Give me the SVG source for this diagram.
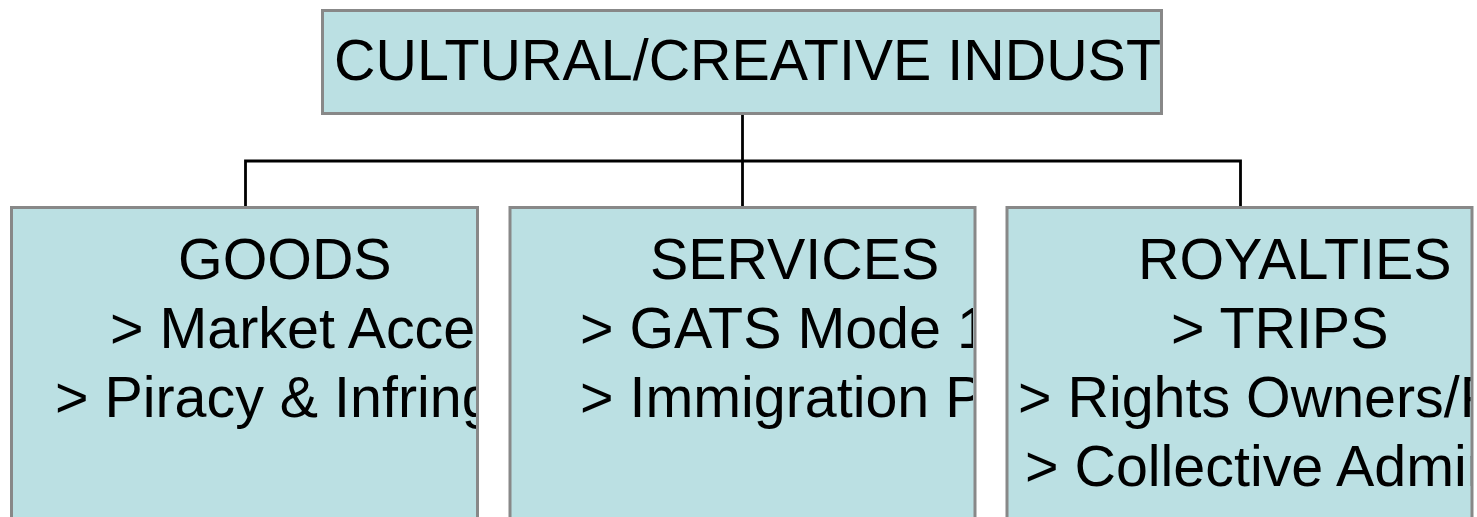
<svg xmlns="http://www.w3.org/2000/svg" width="1477" height="517" viewBox="0 0 1477 517">
  <style>
    .box { fill: #BBE0E3; stroke: #888888; stroke-width: 3; }
    .lbl { font-family: "Liberation Sans", Arial, sans-serif; font-size: 57.4px; fill: #000000; }
    .wire { fill: none; stroke: #000000; stroke-width: 2.8; }
  </style>
  <defs>
    <clipPath id="clip-root"><rect x="324" y="12" width="836" height="100"/></clipPath>
    <clipPath id="clip-goods"><rect x="13" y="209" width="463" height="320"/></clipPath>
    <clipPath id="clip-services"><rect x="511" y="209" width="462" height="320"/></clipPath>
    <clipPath id="clip-royalties"><rect x="1008.5" y="209" width="462" height="320"/></clipPath>
  </defs>

  <rect width="1477" height="517" fill="#FFFFFF"/>

  <!-- org chart connectors -->
  <g id="connectors">
    <path class="wire" d="M742.5 115 V161"/>
    <path class="wire" d="M245.5 207 V161 H1240.5 V207"/>
    <path class="wire" d="M742.5 161 V207"/>
  </g>

  <!-- top-level node -->
  <g id="node-root">
    <rect class="box" x="322.5" y="10.5" width="839" height="103"/>
    <g clip-path="url(#clip-root)">
      <text class="lbl" x="334" y="80">CULTURAL/CREATIVE INDUST</text>
    </g>
  </g>

  <!-- child nodes -->
  <g id="node-goods">
    <rect class="box" x="11.5" y="207.5" width="466" height="330"/>
    <g clip-path="url(#clip-goods)">
      <text class="lbl" x="178" y="279">GOODS</text>
      <text class="lbl" x="110" y="348">&gt; Market Acces</text>
      <text class="lbl" x="55" y="417">&gt; Piracy &amp; Infring</text>
    </g>
  </g>

  <g id="node-services">
    <rect class="box" x="510" y="207.5" width="465" height="330"/>
    <g clip-path="url(#clip-services)">
      <text class="lbl" x="650" y="279">SERVICES</text>
      <text class="lbl" x="580" y="348">&gt; GATS Mode 1</text>
      <text class="lbl" x="580" y="417">&gt; Immigration P</text>
    </g>
  </g>

  <g id="node-royalties">
    <rect class="box" x="1007" y="207.5" width="465" height="330"/>
    <g clip-path="url(#clip-royalties)">
      <text class="lbl" x="1138" y="279">ROYALTIES</text>
      <text class="lbl" x="1171" y="348">&gt; TRIPS</text>
      <text class="lbl" x="1018" y="417">&gt; Rights Owners/P</text>
      <text class="lbl" x="1025" y="486">&gt; Collective Admin</text>
    </g>
  </g>
</svg>
